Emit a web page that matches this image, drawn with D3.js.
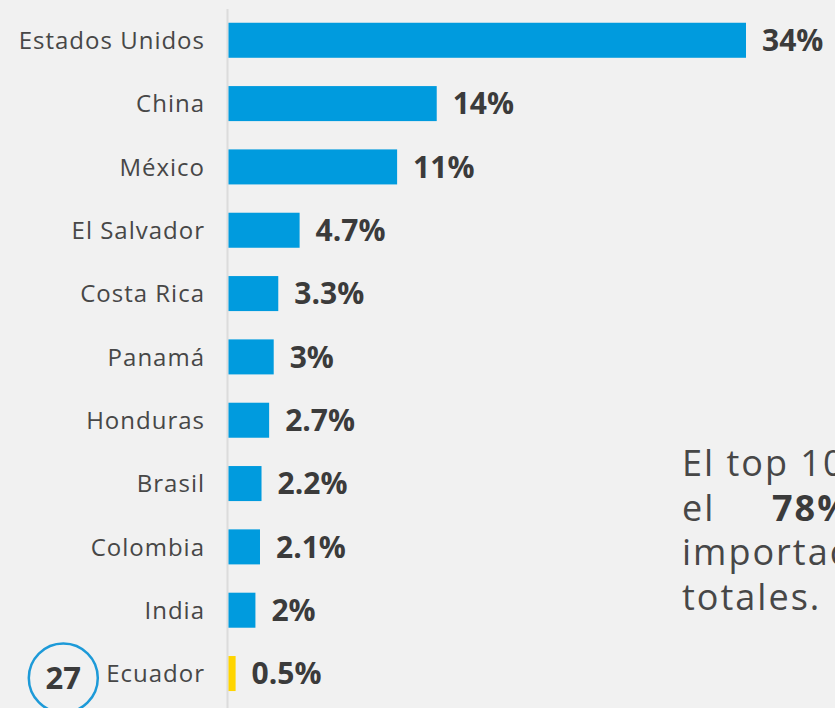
<!DOCTYPE html>
<html>
<head>
<meta charset="utf-8">
<script src="https://cdn.jsdelivr.net/npm/d3@7"></script>
<style>
  html, body { margin: 0; padding: 0; background: #f1f1f1; }
  svg { display: block; }
</style>
</head>
<body>
<div id="chart"></div>
<script>
const countries = ["Estados Unidos", "China", "México", "El Salvador", "Costa Rica", "Panamá", "Honduras", "Brasil", "Colombia", "India", "Ecuador"];
const values = [34, 13.7, 11.1, 4.7, 3.3, 3.0, 2.7, 2.2, 2.1, 1.8, 0.5];
const valueLabels = ["34%", "14%", "11%", "4.7%", "3.3%", "3%", "2.7%", "2.2%", "2.1%", "2%", "0.5%"];
const highlight = "Ecuador";
const highlightRank = "27";
const noteLines = ["El top 10 países representó", "el", "importaciones", "totales."];
const notePct = "78%";

const W = 835, H = 708;
const svg = d3.select("#chart").append("svg").attr("width", W).attr("height", H);
svg.append("rect").attr("width", W).attr("height", H).attr("fill", "#f1f1f1");

const x = d3.scaleLinear().domain([0, 34]).range([228, 746]);
const y = d3.scaleBand().domain(countries).range([8.6, 705.2]).paddingInner(0.447).paddingOuter(0.2235);

const font = "'Open Sans', sans-serif";

// axis line
svg.append("line").attr("x1", 227.5).attr("x2", 227.5).attr("y1", 9).attr("y2", H)
  .attr("stroke", "#dcdcdc").attr("stroke-width", 2);

const rows = countries.map((c, i) => ({c, v: values[i], l: valueLabels[i]}));

svg.selectAll("rect.bar").data(rows).join("rect").attr("class", "bar")
  .attr("x", x(0) + 0.5).attr("y", d => y(d.c))
  .attr("width", d => x(d.v) - x(0) - 0.5).attr("height", y.bandwidth())
  .attr("fill", d => d.c === highlight ? "#ffd500" : "#009bde");

svg.selectAll("text.cat").data(rows).join("text").attr("class", "cat")
  .attr("x", 205).attr("y", d => y(d.c) + y.bandwidth() / 2)
  .attr("dy", "0.36em").attr("text-anchor", "end")
  .attr("font-family", font).attr("font-size", 24).attr("letter-spacing", 1.0)
  .attr("fill", "#474747").text(d => d.c);

svg.selectAll("text.val").data(rows).join("text").attr("class", "val")
  .attr("x", d => x(d.v) + 16).attr("y", d => y(d.c) + y.bandwidth() / 2)
  .attr("dy", "0.36em")
  .attr("font-family", font).attr("font-size", 30).attr("font-weight", 700)
  .attr("fill", "#3b3b3b").text(d => d.l);

// rank circle
const cy = y(highlight) + y.bandwidth() / 2 + 4.5;
svg.append("circle").attr("cx", 63.3).attr("cy", cy).attr("r", 34.5)
  .attr("fill", "none").attr("stroke", "#1d9ad8").attr("stroke-width", 2.5);
svg.append("text").attr("x", 63.3).attr("y", cy).attr("dy", "0.36em").attr("text-anchor", "middle")
  .attr("font-family", font).attr("font-size", 31).attr("font-weight", 700)
  .attr("fill", "#3b3b3b").text(highlightRank);

// note text
const note = svg.append("text").attr("font-family", font).attr("font-size", 36)
  .attr("letter-spacing", 2).attr("fill", "#474747");
note.append("tspan").attr("x", 682).attr("y", 476).text(noteLines[0]);
note.append("tspan").attr("x", 682).attr("y", 520.5).text(noteLines[1]);
note.append("tspan").attr("x", 772).attr("y", 520.5).attr("font-weight", 700).attr("fill", "#3b3b3b").text(notePct);
note.append("tspan").attr("x", 682).attr("y", 565).text(noteLines[2]);
note.append("tspan").attr("x", 682).attr("y", 609.5).text(noteLines[3]);
</script>
</body>
</html>
